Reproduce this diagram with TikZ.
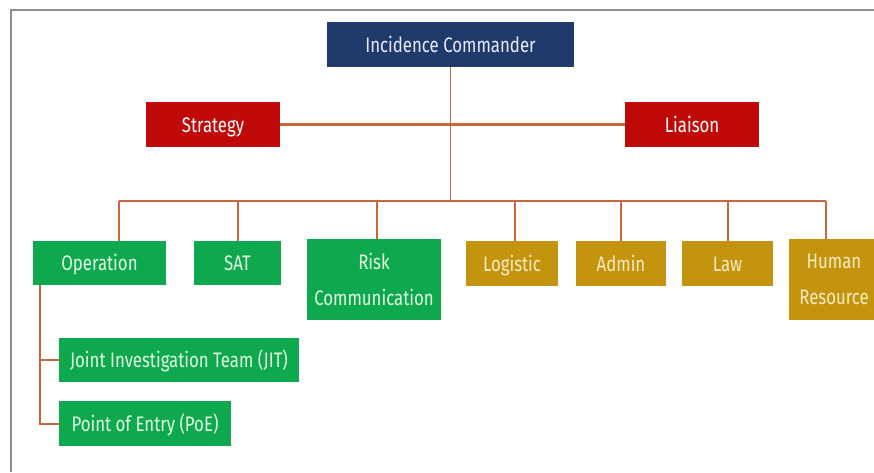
\documentclass[tikz,border=0pt]{standalone}
\usepackage{fontspec}
\setmainfont[FakeStretch=0.8]{Fira Sans}
\definecolor{icblue}{HTML}{1F3A6B}
\definecolor{redbox}{HTML}{C00A0A}
\definecolor{greenbox}{HTML}{0EA94E}
\definecolor{goldbox}{HTML}{C4940E}
\definecolor{linecol}{HTML}{C8683A}
\definecolor{framecol}{HTML}{8E8E8E}
\definecolor{greentext}{HTML}{E2F8E2}
\definecolor{goldtext}{HTML}{F8EBC0}
\tikzset{
  box/.style={inner sep=0pt, align=center, font=\fontsize{21}{36}\selectfont, text=white},
  one/.style={text height=17pt, text depth=2pt},
  icbox/.style={box, one, fill=icblue, text=white!92!blue},
  redb/.style={box, one, fill=redbox},
  greenb/.style={box, fill=greenbox, text=greentext},
  goldb/.style={box, fill=goldbox, text=goldtext},
  conn/.style={draw=linecol, line width=2pt},
  bus/.style={draw=linecol, line width=2.6pt},
}
\begin{document}
\begin{tikzpicture}[x=1pt,y=-1pt]
\useasboundingbox (0,0) rectangle (874,472);
\fill[white] (0,0) rectangle (874,472);
\draw[framecol, line width=1.6pt] (11,472) -- (11,10) -- (874,10);

\node[icbox, minimum width=247pt, minimum height=45pt] (ic) at (450.5,44.5) {Incidence Commander};
\node[redb, minimum width=134pt, minimum height=45pt] (strat) at (213,124.5) {Strategy};
\node[redb, minimum width=134pt, minimum height=45pt] (liai) at (692,124.5) {Liaison};

\node[greenb, one, minimum width=133pt, minimum height=44pt] (op) at (99.5,263) {Operation};
\node[greenb, one, minimum width=87pt, minimum height=44pt] (sat) at (237.5,263) {SAT};
\node[greenb, minimum width=134pt, minimum height=81pt] (risk) at (374,279.5) {Risk\\Communication};
\node[goldb, one, minimum width=92pt, minimum height=45pt] (log) at (512,263.5) {Logistic};
\node[goldb, one, minimum width=90pt, minimum height=45pt] (adm) at (621,263.5) {Admin};
\node[goldb, one, minimum width=91pt, minimum height=45pt] (law) at (727.5,263.5) {Law};
\node[goldb, minimum width=90pt, minimum height=81pt] (hr) at (834,279.5) {Human\\Resource};

\node[greenb, one, minimum width=240pt, minimum height=44pt] (jit) at (179,360) {Joint Investigation Team (JIT)};
\node[greenb, one, minimum width=172pt, minimum height=45pt] (poe) at (145,423.5) {Point of Entry (PoE)};

\coordinate (busl) at (119,201);
\coordinate (busr) at (826,201);
\coordinate (opx) at (40,0);

\draw[bus] (strat.east) -- (liai.west);
\draw[conn, line width=1.6pt] (ic.south) -- (ic.south |- busl);
\draw[bus] (busl) -- (busr);
\draw[conn] (busl) -- (busl |- op.north);
\draw[conn] (sat.north |- busl) -- (sat.north);
\draw[conn] (377,201) -- (377,239);
\draw[conn] (515,201) -- (515,241);
\draw[conn] (adm.north |- busl) -- (adm.north);
\draw[conn] (law.north |- busl) -- (law.north);
\draw[conn] (busr) -- (busr |- hr.north);
\draw[conn] (opx |- op.south) -- (opx |- jit.west) -- (jit.west);
\draw[conn] (opx |- jit.west) |- (poe.west);
\end{tikzpicture}
\end{document}
